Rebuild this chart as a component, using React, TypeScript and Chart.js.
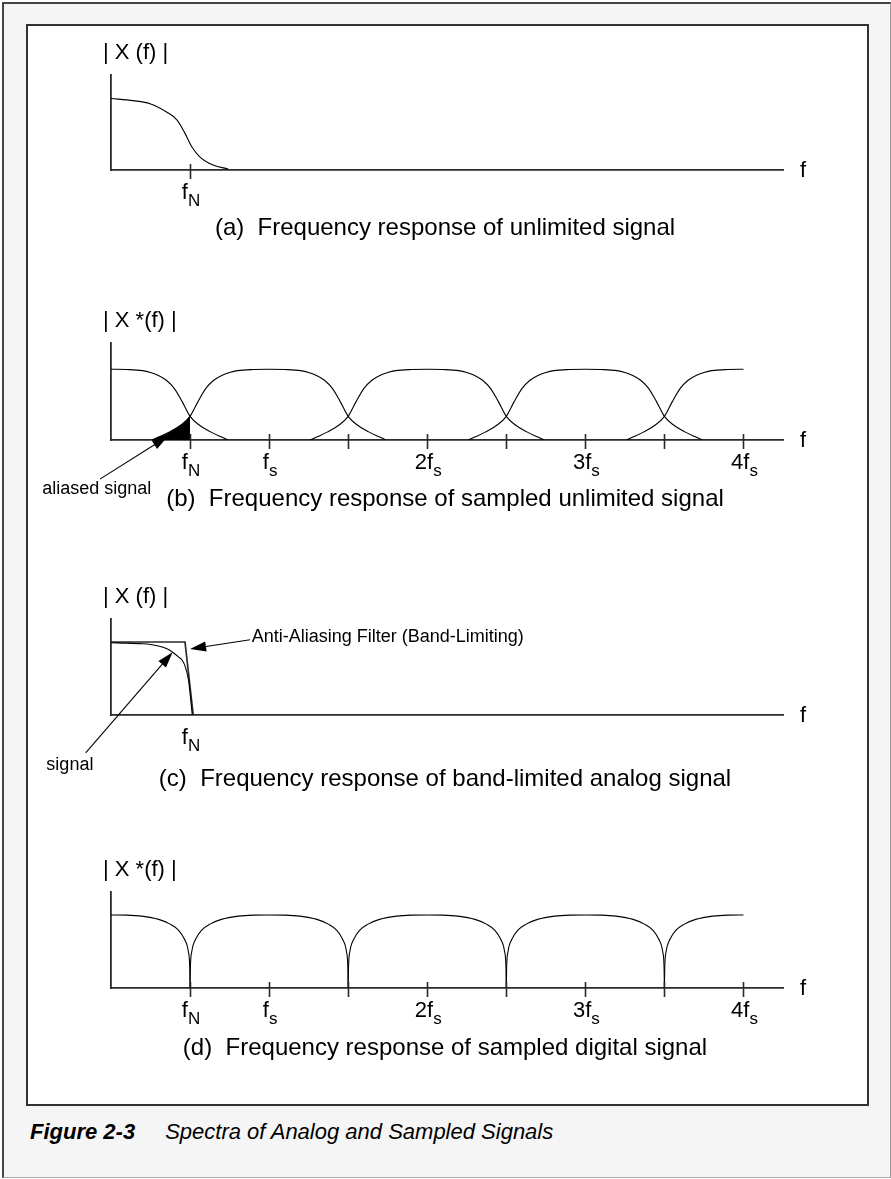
import React, { useEffect, useRef } from "react";
import { Chart, registerables } from "chart.js";

Chart.register(...registerables);

const FONT = '"Liberation Sans", Arial, Helvetica, sans-serif';
const INK = "#000";
const AXIS = "#2a2a2a";

// Frequency axis is measured in multiples of the sampling frequency fs.
const X_MAX = 4.25;
const Y_MAX = 1.315;

// (a) spectrum of the unlimited analog signal
const unlimitedF = [0, 0.139, 0.247, 0.354, 0.418, 0.468, 0.513, 0.563, 0.646, 0.741];
const unlimitedMag = [0.99, 0.96, 0.918, 0.8, 0.69, 0.507, 0.315, 0.178, 0.068, 0.014];

// (b) one spectral image of the sampled unlimited signal, offset from its centre
const lobeOffset = [-0.74, -0.71, -0.63, -0.56, -0.5, -0.45, -0.4, -0.35, -0.3, -0.25, -0.2, -0.1, 0, 0.1, 0.2, 0.25, 0.3, 0.35, 0.4, 0.45, 0.5, 0.56, 0.63, 0.71, 0.74];
const lobeMag = [0, 0.03, 0.11, 0.2, 0.32, 0.52, 0.7, 0.81, 0.875, 0.915, 0.94, 0.956, 0.96, 0.956, 0.94, 0.915, 0.875, 0.81, 0.7, 0.52, 0.32, 0.2, 0.11, 0.03, 0];
const lobeCentres = [0, 1, 2, 3, 4];
const aliasCentre = 1;
const nyquist = 0.5;

// (c) band-limited analog signal and the anti-aliasing filter
const signalF = [0, 0.1, 0.2, 0.25, 0.3, 0.35, 0.39, 0.43, 0.45, 0.47, 0.49, 0.5, 0.514];
const signalMag = [0.99, 0.985, 0.975, 0.965, 0.945, 0.91, 0.86, 0.79, 0.75, 0.66, 0.48, 0.3, 0];
const filterF = [0, 0.468, 0.52];
const filterMag = [1.0, 1.0, 0];

// (d) one lobe of the sampled digital signal, offset from its left edge
const digitalOffset = [0, 0.002, 0.011, 0.036, 0.072, 0.126, 0.198, 0.306, 0.4, 0.5, 0.6, 0.694, 0.802, 0.874, 0.928, 0.964, 0.989, 0.998, 1.0];
const digitalMag = [0, 0.27, 0.5, 0.67, 0.79, 0.875, 0.94, 0.985, 0.998, 1.0, 0.998, 0.985, 0.94, 0.875, 0.79, 0.67, 0.5, 0.27, 0];
const digitalEdges = [-0.5, 0.5, 1.5, 2.5, 3.5];

// Tick marks and labels on the frequency axis
const sampledTicks = [0.5, 1, 1.5, 2, 2.5, 3, 3.5, 4];
const nyquistTick = [0.5];
const labelValues = [0.5, 1, 2, 3, 4];
const labelMain = ["f", "f", "2f", "3f", "4f"];
const labelSub = ["N", "s", "s", "s", "s"];

const yTitles = ["| X (f) |", "| X *(f) |", "| X (f) |", "| X *(f) |"];
const captions = [
  "(a)  Frequency response of unlimited signal",
  "(b)  Frequency response of sampled unlimited signal",
  "(c)  Frequency response of band-limited analog signal",
  "(d)  Frequency response of sampled digital signal",
];

// Page layout (pixels)
const PLOT_LEFT = 111;
const PLOT_RIGHT = 783;
const PLOT_TOP = [75, 343, 619, 892];
const PLOT_BOTTOM = [170, 440, 715, 988];
const CAPTION_GAP = [65, 66, 71, 67];
const CANVAS_LEFT = 29;
const CANVAS_WIDTH = 836;
const PAD_TOP = 55;
const PAD_BOTTOM = 92;

type Pt = { x: number; y: number };
type Note = { text: string; tx: number; ty: number; align: CanvasTextAlign; fx: number; fy: number; ax: number; ay: number };

const pts = (xs: number[], ys: number[]): Pt[] => xs.map((x, i) => ({ x, y: ys[i] }));
const inRange = (p: Pt, lo: number, hi: number) => p.x >= lo - 1e-9 && p.x <= hi + 1e-9;

const lobeAt = (centre: number, lo: number, hi: number) =>
  lobeOffset.map((o, i) => ({ x: centre + o, y: lobeMag[i] })).filter((p) => inRange(p, lo, hi));

const digitalAt = (edge: number) =>
  digitalOffset.map((o, i) => ({ x: edge + o, y: digitalMag[i] })).filter((p) => inRange(p, 0, 4));

const curve = (data: Pt[], extra: Record<string, unknown> = {}) => ({
  data,
  borderColor: INK,
  borderWidth: 1.1,
  pointRadius: 0,
  cubicInterpolationMode: "monotone" as const,
  fill: false,
  ...extra,
});

const panelDatasets = [
  [curve(pts(unlimitedF, unlimitedMag))],
  [
    ...lobeCentres.map((c) => curve(lobeAt(c, 0, 4))),
    curve(lobeAt(aliasCentre, 0, nyquist), { fill: "origin", backgroundColor: INK, borderWidth: 0 }),
  ],
  [
    curve(pts(signalF, signalMag)),
    { data: pts(filterF, filterMag), borderColor: AXIS, borderWidth: 1.7, pointRadius: 0, tension: 0, fill: false },
  ],
  digitalEdges.map((e) => curve(digitalAt(e))),
];

const panelTicks = [nyquistTick, sampledTicks, [] as number[], sampledTicks];
const panelLabelCount = [1, 5, 1, 5];

const panelNotes: Note[][] = [
  [],
  [{ text: "aliased signal", tx: -0.09, ty: -0.66, align: "center", fx: -0.07, fy: -0.53, ax: 0.36, ay: 0.05 }],
  [
    { text: "Anti-Aliasing Filter (Band-Limiting)", tx: 0.89, ty: 1.07, align: "left", fx: 0.88, fy: 1.03, ax: 0.5, ay: 0.905 },
    { text: "signal", tx: -0.26, ty: -0.68, align: "center", fx: -0.16, fy: -0.52, ax: 0.39, ay: 0.86 },
  ],
  [],
];

function drawArrow(ctx: CanvasRenderingContext2D, x1: number, y1: number, x2: number, y2: number) {
  const ang = Math.atan2(y2 - y1, x2 - x1);
  const c = Math.cos(ang);
  const s = Math.sin(ang);
  const L = 16;
  const W = 5;
  ctx.beginPath();
  ctx.moveTo(x1, y1);
  ctx.lineTo(x2 - L * 0.7 * c, y2 - L * 0.7 * s);
  ctx.stroke();
  ctx.beginPath();
  ctx.moveTo(x2, y2);
  ctx.lineTo(x2 - L * c + W * s, y2 - L * s - W * c);
  ctx.lineTo(x2 - L * c - W * s, y2 - L * s + W * c);
  ctx.closePath();
  ctx.fill();
}

const decorPlugin = {
  id: "decor",
  afterDraw(chart: any, _args: unknown, opts: any) {
    const { ctx, chartArea: a } = chart;
    const xs = chart.scales.x;
    const ys = chart.scales.y;
    const px = (v: number) => xs.getPixelForValue(v);
    const py = (v: number) => ys.getPixelForValue(v);
    ctx.save();
    ctx.fillStyle = INK;
    ctx.strokeStyle = AXIS;

    // tick marks crossing the frequency axis
    ctx.lineWidth = 1.6;
    for (const t of opts.ticks as number[]) {
      const x = Math.round(px(t)) + 0.5;
      ctx.beginPath();
      ctx.moveTo(x, a.bottom - 6);
      ctx.lineTo(x, a.bottom + 9);
      ctx.stroke();
    }

    // tick labels with subscripts
    ctx.textBaseline = "alphabetic";
    ctx.textAlign = "left";
    for (let i = 0; i < opts.labelCount; i++) {
      const x = px(labelValues[i]);
      ctx.font = `22px ${FONT}`;
      const w1 = ctx.measureText(labelMain[i]).width;
      ctx.font = `17px ${FONT}`;
      const w2 = ctx.measureText(labelSub[i]).width;
      const start = x - (w1 + w2) / 2 + 1;
      ctx.font = `22px ${FONT}`;
      ctx.fillText(labelMain[i], start, a.bottom + 29);
      ctx.font = `17px ${FONT}`;
      ctx.fillText(labelSub[i], start + w1, a.bottom + 36);
    }

    // axis names
    ctx.font = `22px ${FONT}`;
    ctx.fillText("f", a.right + 17, a.bottom + 7);
    ctx.fillText(opts.yTitle, a.left - 8, a.top - 16);

    // caption under the panel
    ctx.font = `24px ${FONT}`;
    ctx.textAlign = "center";
    ctx.fillText(opts.caption, (a.left + a.right) / 2 - 2, a.bottom + opts.captionGap);

    // annotations with arrows
    ctx.lineWidth = 1.1;
    ctx.strokeStyle = INK;
    for (const n of opts.notes as Note[]) {
      ctx.font = `18px ${FONT}`;
      ctx.textAlign = n.align;
      ctx.textBaseline = "middle";
      ctx.fillText(n.text, px(n.tx), py(n.ty));
      drawArrow(ctx, px(n.fx), py(n.fy), px(n.ax), py(n.ay));
    }
    ctx.restore();
  },
};

function Panel({ index }: { index: number }) {
  const ref = useRef<HTMLCanvasElement | null>(null);
  const top = PLOT_TOP[index] - PAD_TOP;
  const height = PLOT_BOTTOM[index] - PLOT_TOP[index] + PAD_TOP + PAD_BOTTOM;

  useEffect(() => {
    if (!ref.current) return;
    const hiddenTicks = { display: false };
    const axisBorder = { display: true, color: AXIS, width: 1.8 };
    const chart = new Chart(ref.current, {
      type: "line",
      data: { datasets: panelDatasets[index] as any },
      options: {
        responsive: false,
        animation: false,
        devicePixelRatio: 1,
        events: [],
        layout: {
          autoPadding: false,
          padding: {
            left: PLOT_LEFT - CANVAS_LEFT,
            right: CANVAS_LEFT + CANVAS_WIDTH - PLOT_RIGHT,
            top: PAD_TOP,
            bottom: PAD_BOTTOM,
          },
        },
        plugins: {
          legend: { display: false },
          tooltip: { enabled: false },
          title: { display: false },
          decor: {
            ticks: panelTicks[index],
            labelCount: panelLabelCount[index],
            yTitle: yTitles[index],
            caption: captions[index],
            captionGap: CAPTION_GAP[index],
            notes: panelNotes[index],
          },
        } as any,
        scales: {
          x: {
            type: "linear",
            min: 0,
            max: X_MAX,
            grid: { display: false, drawTicks: false },
            ticks: hiddenTicks,
            border: axisBorder,
          },
          y: {
            type: "linear",
            min: 0,
            max: Y_MAX,
            grid: { display: false, drawTicks: false },
            ticks: hiddenTicks,
            border: axisBorder,
          },
        },
      },
      plugins: [decorPlugin],
    });
    return () => chart.destroy();
  }, [index]);

  return (
    <canvas
      ref={ref}
      width={CANVAS_WIDTH}
      height={height}
      style={{ position: "absolute", left: CANVAS_LEFT, top, width: CANVAS_WIDTH, height }}
    />
  );
}

export default function App() {
  return (
    <div style={{ position: "absolute", left: 0, top: 0, width: 891, height: 1179, background: "#fff", fontFamily: FONT }}>
      <div
        style={{
          position: "absolute",
          left: 2,
          top: 2,
          width: 889,
          height: 1176,
          boxSizing: "border-box",
          background: "#f5f5f5",
          borderLeft: "2px solid #444",
          borderTop: "2px solid #444",
          borderRight: "1px solid #999",
          borderBottom: "1px solid #aaa",
        }}
      />
      <div
        style={{
          position: "absolute",
          left: 26,
          top: 24,
          width: 843,
          height: 1082,
          boxSizing: "border-box",
          background: "#fff",
          border: "2px solid #333",
        }}
      />
      {[0, 1, 2, 3].map((i) => (
        <Panel key={i} index={i} />
      ))}
      <div
        style={{
          position: "absolute",
          left: 30,
          top: 1119,
          fontSize: 22,
          fontStyle: "italic",
          color: "#000",
          whiteSpace: "nowrap",
        }}
      >
        <span style={{ fontWeight: "bold" }}>Figure 2-3</span>
        <span style={{ marginLeft: 30 }}>Spectra of Analog and Sampled Signals</span>
      </div>
    </div>
  );
}
